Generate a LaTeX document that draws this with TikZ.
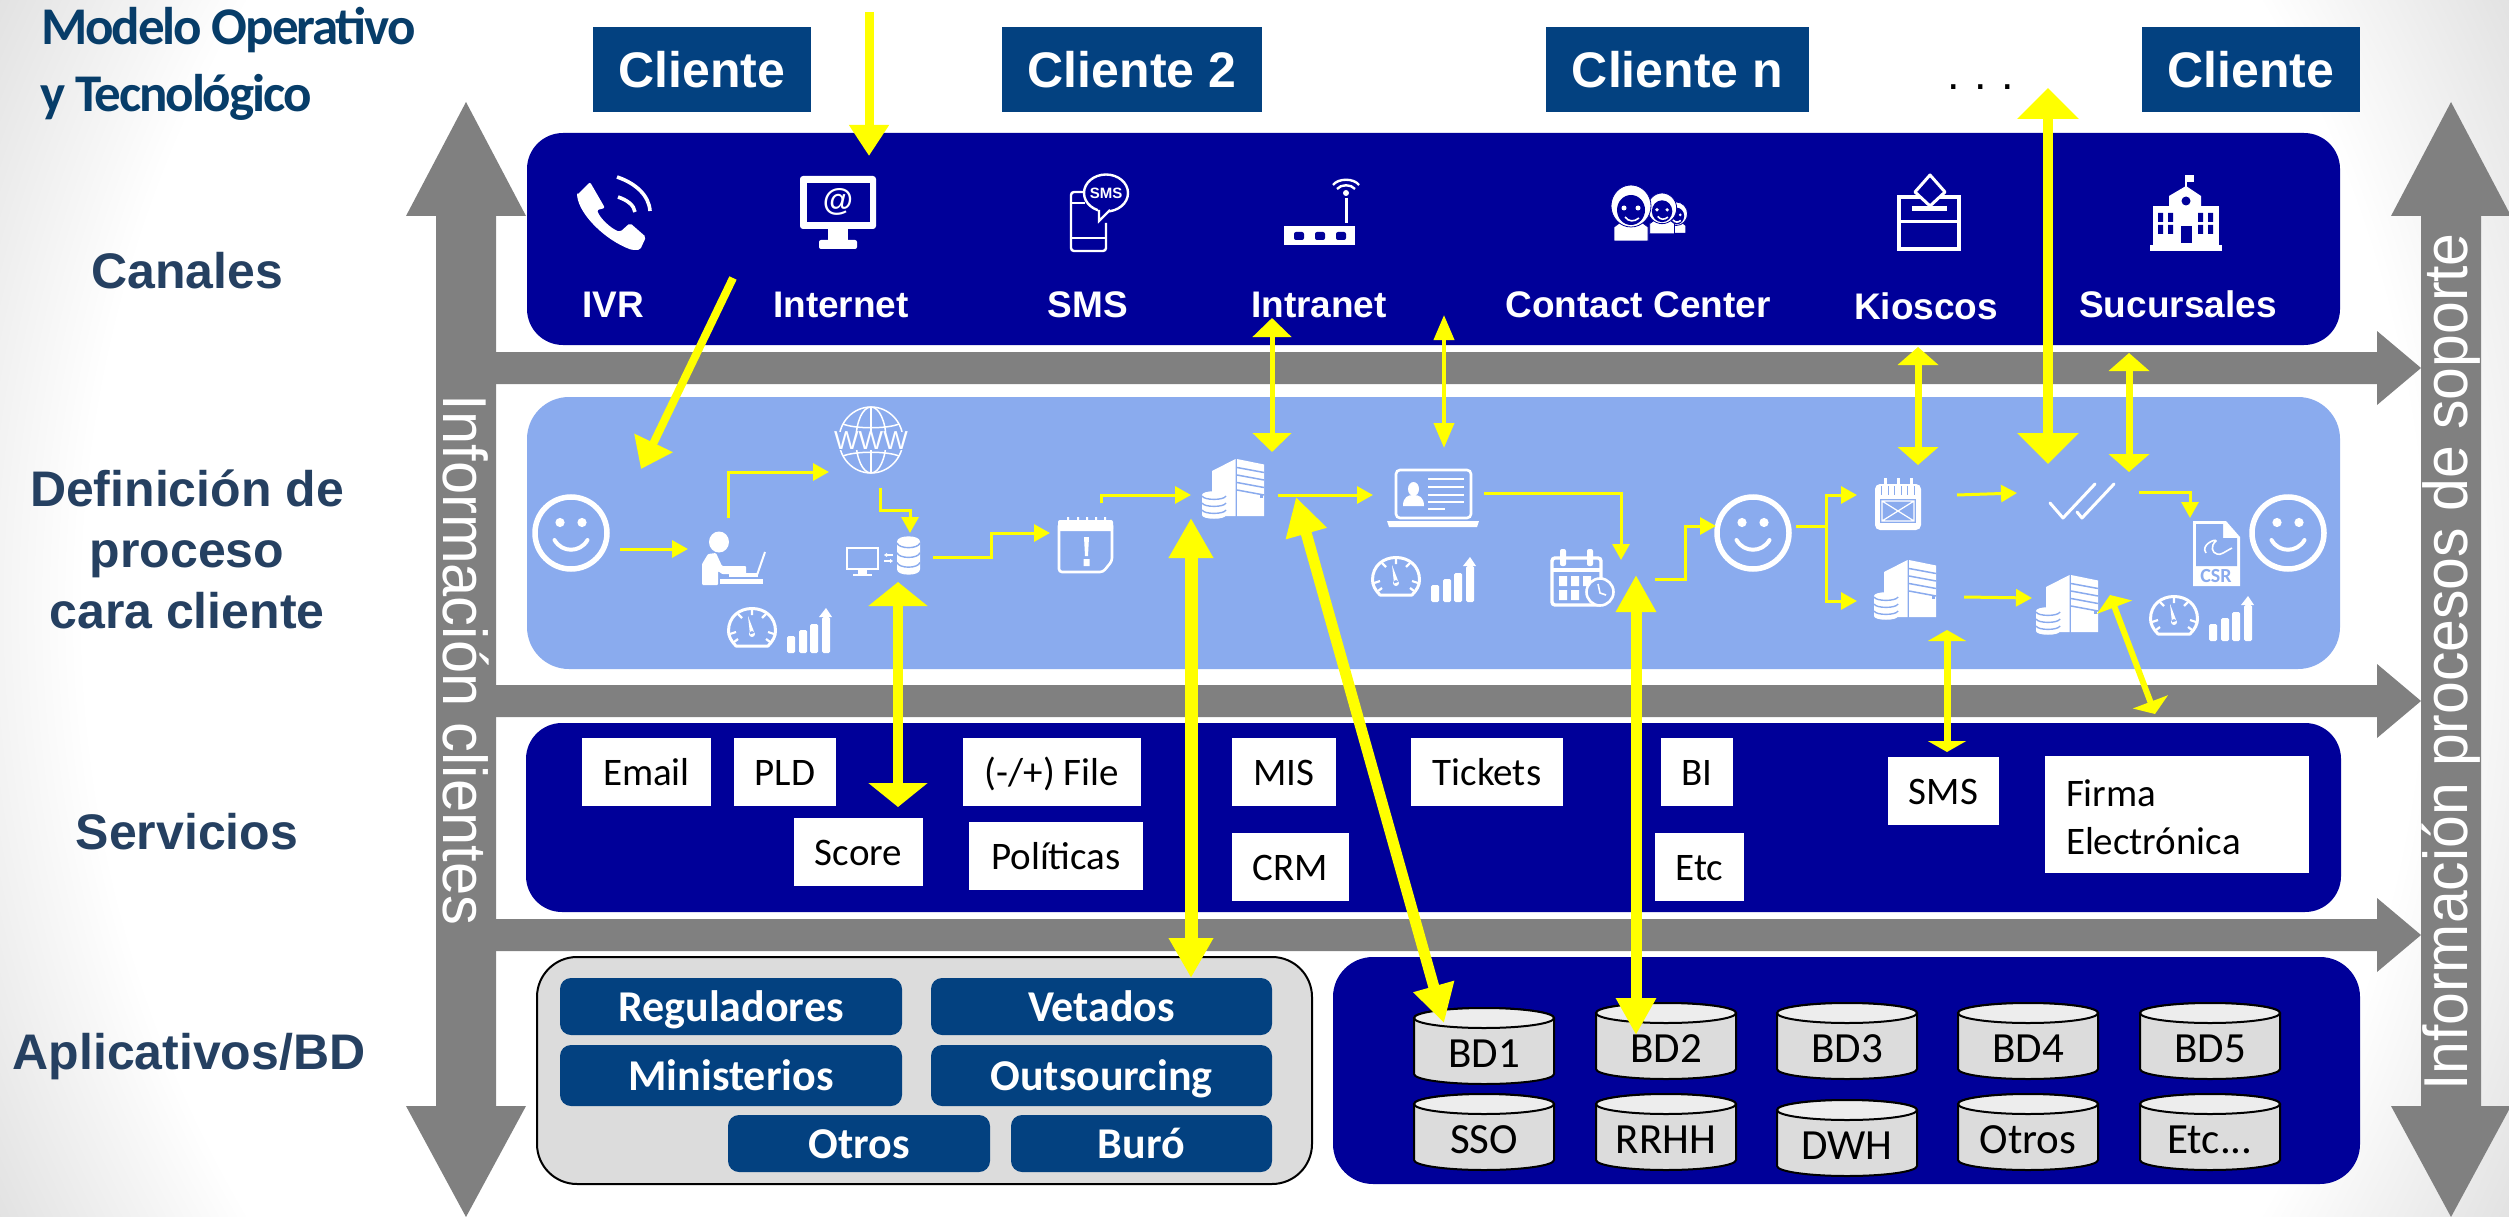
\documentclass[tikz,border=0pt]{standalone}
\usepackage{fontspec}
\usetikzlibrary{arrows.meta,shapes.geometric}
\setmainfont{Liberation Sans}
\newfontfamily\arialf{Liberation Sans}
\newfontfamily\carlf{Carlito}
\newfontfamily\tightf[LetterSpace=-4]{Carlito}
\definecolor{chanblue}{HTML}{000099}
\definecolor{defblue}{HTML}{8AABEE}
\definecolor{hdrblue}{HTML}{034180}
\definecolor{labblue}{HTML}{254061}
\definecolor{titblue}{HTML}{073D69}
\definecolor{barGray}{HTML}{808080}
\definecolor{yel}{HTML}{FFFF00}
\definecolor{panelGray}{HTML}{DCDCDC}
\definecolor{cylTop}{HTML}{EDEDED}
\definecolor{bgedge}{HTML}{E2E2E2}
\pgfdeclareradialshading{bgglow}{\pgfpoint{0bp}{0bp}}{color(0bp)=(white); color(19.23bp)=(white); color(22.9bp)=(bgedge); color(50bp)=(bgedge)}
\newcommand{\fpx}[1]{\fontsize{#1}{#1}\selectfont}
\tikzset{
  band/.style={rectangle,rounded corners=36pt,inner sep=0pt,fill=#1},
  clientbox/.style={rectangle,fill=hdrblue,text=white,inner sep=0pt,text height=37pt,text depth=0pt,font=\arialf\bfseries\fpx{50}},
  chanlabel/.style={text=white,inner sep=0pt,text height=28pt,text depth=0pt,font=\arialf\bfseries\fpx{37}},
  rowlabel/.style={text=labblue,inner sep=0pt,align=center,font=\arialf\bfseries\fontsize{50}{61}\selectfont},
  svcbox/.style={rectangle,fill=white,text=black,inner sep=0pt,font=\carlf\fpx{39}},
  svcone/.style={svcbox,text height=32pt,text depth=6pt},
  appbox/.style={rectangle,fill=hdrblue,text=white,rounded corners=11pt,inner sep=0pt,text height=36pt,text depth=6pt,font=\carlf\bfseries\fpx{44}},
  sidetext/.style={text=white,inner sep=0pt,font=\arialf\fpx{62}},
  barshape/.style={fill=barGray,draw=none},
  yarr/.style n args={3}{draw=yel,line width=#1,-{Triangle[length=#2,width=#3]}},
  ydbl/.style n args={3}{draw=yel,line width=#1,{Triangle[length=#2,width=#3]}-{Triangle[length=#2,width=#3]}},
  flowarr/.style={draw=yel,line width=3pt,-{Triangle[length=16pt,width=17pt]}},
  icf/.style={fill=white,draw=none},
  icl/.style={draw=white,line width=2.6pt,fill=none},
}
% smile
\newcommand{\icsmile}[2]{\begin{scope}[shift={(#1,#2)}]
  \draw[white,line width=5.5pt] (0,0) circle[radius=36pt];
  \fill[white] (-11,-10.5) circle[radius=4.6pt] (11,-10.5) circle[radius=4.6pt];
  \draw[white,line width=4pt,line cap=round] (-16.5,7) .. controls (-9,20) and (9,20) .. (16.5,7);
\end{scope}}
% gauge with rising bars
\newcommand{\icgauge}[2]{\begin{scope}[shift={(#1,#2)}]
  \draw[icl,line width=3pt,line join=round] (9,39) .. controls (4,34) and (1.5,29) .. (1.5,24) .. controls (1.5,10) and (12,1.5) .. (25,1.5) .. controls (38,1.5) and (48.5,10) .. (48.5,24) .. controls (48.5,29) and (46,34) .. (41,39) -- cycle;
  \draw[white,line width=2.2pt] (25,2)--(25,8) (11,7)--(15,11) (39,7)--(35,11) (3,27)--(9,25) (47,27)--(41,25) (7,35)--(11,32) (43,35)--(39,32);
  \fill[white] (21,9) -- (27.5,26) -- (23,27.5) -- cycle (25,27) circle[radius=3pt];
  \fill[white,rounded corners=1.5pt] (60,29) rectangle (68,46) (72,23) rectangle (80,46) (83,17) rectangle (91,46) (95,10) rectangle (103,46);
  \fill[white] (92,10) -- (99,1) -- (105,10) -- cycle;
\end{scope}}
% db stack
\newcommand{\icdb}[4]{\begin{scope}[shift={(#1,#2)},xscale=#3/24,yscale=#4/28]
  \fill[white] (0,4) .. controls (0,-1) and (24,-1) .. (24,4) -- (24,24) .. controls (24,29) and (0,29) .. (0,24) -- cycle;
  \draw[defblue,line width=1.4pt] (0,5) .. controls (2,9.5) and (22,9.5) .. (24,5) (0,12) .. controls (2,16.5) and (22,16.5) .. (24,12) (0,19) .. controls (2,23.5) and (22,23.5) .. (24,19);
\end{scope}}
% server tower
\newcommand{\icserver}[2]{\begin{scope}[shift={(#1,#2)}]
  \fill[white] (0,12) -- (23.5,0) -- (23.5,57) -- (0,57) -- cycle;
  \fill[white] (25,0) -- (52,5.5) -- (52,57) -- (25,57) -- cycle;
  \draw[defblue,line width=1.5pt] (25,8.5)--(52,13.5) (25,16)--(52,21) (25,23.5)--(52,28.5) (25,31)--(52,36);
  \fill[defblue] (47.5,35) rectangle (50.5,39);
\end{scope}}
% agent with headset
\newcommand{\icagent}[3]{\begin{scope}[shift={(#1,#2)},scale=#3]
  \fill[white,draw=chanblue,line width=.8pt] (5,56) -- (5,42) -- (13,36) -- (31,36) -- (39,42) -- (39,56) -- cycle;
  \fill[white,draw=chanblue,line width=.8pt] (22,21) ellipse[x radius=20pt,y radius=21pt];
  \fill[chanblue] (22,25) ellipse[x radius=14pt,y radius=15pt];
  \fill[white] (15,23) circle[radius=2.5pt] (29,23) circle[radius=2.5pt];
  \draw[white,line width=1.6pt] (16,32) .. controls (20,37) and (25,37) .. (30,33);
\end{scope}}
% cylinder
\newcommand{\icyl}[4]{%
  \draw[fill=panelGray,draw=black,line width=2pt] (#2,#3+10) -- (#2,#3+66) arc[start angle=180,end angle=360,x radius=70pt,y radius=10pt] -- (#2+140,#3+10) arc[start angle=0,end angle=180,x radius=70pt,y radius=10pt] -- cycle;
  \draw[fill=cylTop,draw=black,line width=2pt] (#2+70,#3+10) ellipse[x radius=70pt,y radius=10pt];
  \node[text=black,inner sep=0pt,text height=32pt,text depth=4pt,font=\carlf\fpx{43}] (#1) at (#2+70,#3+45) {#4};}
\begin{document}
\begin{tikzpicture}[x=1pt,y=-1pt]
\useasboundingbox (0,0) rectangle (2509,1217);
\fill[white] (0,0) rectangle (2509,1217);
\shade[shading=bgglow] (-267,-930) rectangle (2775,2146);

% grey arrows
\fill[barshape] (496,352) -- (2377,352) -- (2377,331) -- (2421,368) -- (2377,405) -- (2377,384) -- (496,384) -- cycle;
\fill[barshape] (496,685) -- (2377,685) -- (2377,664) -- (2421,701) -- (2377,738) -- (2377,717) -- (496,717) -- cycle;
\fill[barshape] (496,919) -- (2377,919) -- (2377,898) -- (2421,935) -- (2377,972) -- (2377,951) -- (496,951) -- cycle;
\fill[barshape] (466,102) -- (526,216) -- (496,216) -- (496,1106) -- (526,1106) -- (466,1217) -- (406,1106) -- (436,1106) -- (436,216) -- (406,216) -- cycle;
\fill[barshape] (2451,102) -- (2511,216) -- (2481,216) -- (2481,1106) -- (2511,1106) -- (2451,1217) -- (2391,1106) -- (2421,1106) -- (2421,216) -- (2391,216) -- cycle;
\node[sidetext,rotate=-90] (sideL) at (466,660) {\scalebox{0.962}[1]{Información clientes}};
\node[sidetext,rotate=90] (sideR) at (2451,662) {\scalebox{0.95}[1]{Información procesos de soporte}};

% title and row labels
\node[anchor=base west,inner sep=0pt,text=titblue,font=\tightf\bfseries\fpx{53}] (title1) at (41,45) {Modelo Operativo};
\node[anchor=base west,inner sep=0pt,text=titblue,font=\tightf\bfseries\fpx{53}] (title2) at (40,112) {y Tecnológico};
\node[rowlabel,anchor=base] (rowCan) at (187,288) {Canales};
\node[rowlabel] (rowDef) at (187,549) {Definición de\\proceso\\cara cliente};
\node[rowlabel,anchor=base] (rowSer) at (187,849) {Servicios};
\node[rowlabel,anchor=base] (rowApp) at (189,1069) {Aplicativos/BD};

% client boxes
\node[clientbox,minimum width=218pt,minimum height=85pt] (cli1) at (702,69.5) {Cliente};
\node[clientbox,minimum width=260pt,minimum height=85pt] (cli2) at (1132,69.5) {Cliente 2};
\node[clientbox,minimum width=263pt,minimum height=85pt] (clin) at (1677.5,69.5) {Cliente n};
\node[clientbox,minimum width=218pt,minimum height=85pt] (cliz) at (2251,69.5) {Cliente};
\node[anchor=base,inner sep=0pt,font=\arialf\fpx{45}] (dots) at (1981,90) {.\hspace{14.5pt}.\hspace{14.5pt}.};

% bands
\node[band=chanblue,minimum width=1813pt,minimum height=212pt] (bandCan) at (1433.5,239) {};
\node[band=defblue,rounded corners=42pt,minimum width=1813pt,minimum height=272pt] (bandDef) at (1433.5,533) {};
\node[band=chanblue,minimum width=1815pt,minimum height=189pt] (bandSer) at (1433.5,817.5) {};
\node[band=chanblue,rounded corners=40pt,minimum width=1027pt,minimum height=227pt] (bandDb) at (1846.5,1070.5) {};
\node[rectangle,rounded corners=40pt,fill=panelGray,draw=black,line width=2pt,inner sep=0pt,minimum width=775pt,minimum height=227pt] (bandApp) at (924.5,1070.5) {};

% channel labels
\node[chanlabel] (lIVR) at (613,303) {IVR};
\node[chanlabel] (lInt) at (841,303) {Internet};
\node[chanlabel] (lSMS) at (1088,303) {SMS};
\node[chanlabel] (lIntra) at (1319,303) {Intranet};
\node[chanlabel] (lCC) at (1638,303) {Contact Center};
\node[chanlabel] (lKio) at (1926,305) {Kioscos};
\node[chanlabel] (lSuc) at (2178,303) {Sucursales};

% phone icon
\fill[white,rounded corners=2pt] (577,195) -- (590,182) -- (605,208) -- (597,210) .. controls (600,218) and (610,228) .. (620,232) -- (630,223) -- (646,237) -- (640,250) -- (632,250) .. controls (605,240) and (580,215) .. (577,195) -- cycle;
\draw[white,line width=3.6pt] (617,177) .. controls (635,183) and (649,195) .. (650,211);
\draw[white,line width=3.6pt] (618,197) .. controls (627,200) and (634,205) .. (635,212);
% monitor icon
\fill[white,rounded corners=3pt] (800,176) rectangle (876,229);
\fill[chanblue] (807,183) rectangle (870,222);
\fill[white] (828,229) rectangle (848,241);
\fill[white,rounded corners=2pt] (819,240) rectangle (857,249);
\node[text=white,inner sep=0pt,font=\arialf\bfseries\fpx{31}] (atSign) at (838,202) {@};
% sms phone icon
\draw[white,line width=2.4pt,rounded corners=3pt] (1085,192) -- (1071,192) -- (1071,251) -- (1106,251) -- (1106,223);
\draw[white,line width=2.4pt] (1071,238) -- (1106,238) (1071,203) -- (1085,203);
\draw[white,line width=2.4pt,fill=chanblue] (1106,193) ellipse[x radius=22pt,y radius=18.5pt];
\fill[chanblue] (1098,208) -- (1110,208) -- (1100,222) -- cycle;
\draw[white,line width=2.2pt] (1110,210) -- (1099,221) -- (1099,210);
\node[text=white,inner sep=0pt,font=\arialf\bfseries\fpx{15}] (smsTxt) at (1106,193) {SMS};
% router icon
\fill[white] (1284,226) rectangle (1355,245);
\fill[chanblue,rounded corners=2pt] (1294,232) rectangle (1304,240) (1315,232) rectangle (1325,240) (1336,232) rectangle (1346,240);
\draw[white,line width=3pt] (1346,198) -- (1346,223);
\fill[white] (1346,193) circle[radius=3pt];
\draw[white,line width=2.4pt] (1337,189) .. controls (1341,184) and (1351,184) .. (1355,189);
\draw[white,line width=2.4pt] (1333,185) .. controls (1338,178) and (1354,178) .. (1359,185);
% contact centre icon
\icagent{1664}{202}{0.56}
\icagent{1646}{193}{0.73}
\icagent{1609}{185}{1}
% ballot box icon
\draw[white,line width=4pt] (1899,197) rectangle (1959,249);
\draw[white,line width=3pt] (1899,222) -- (1959,222);
\draw[white,line width=3pt,fill=chanblue,line join=round] (1930,175) -- (1945,192) -- (1930,206) -- (1915,192) -- cycle;
\fill[white] (1912,206) rectangle (1947,211);
% school icon
\fill[white] (2150,245) rectangle (2222,251);
\fill[white] (2153,206) rectangle (2219,246);
\fill[white] (2169,206) -- (2169,196) -- (2186,186) -- (2201,196) -- (2201,206) -- cycle;
\draw[white,line width=2.4pt] (2186,175) -- (2186,187);
\fill[white] (2186,175) rectangle (2194,182);
\fill[chanblue] (2186,201) circle[radius=4.5pt];
\fill[chanblue] (2181,226) rectangle (2192,243);
\fill[chanblue] (2158,213) rectangle (2163,222) (2168,213) rectangle (2173,222) (2158,225) rectangle (2163,234) (2168,225) rectangle (2173,234) (2198,213) rectangle (2203,222) (2208,213) rectangle (2213,222) (2198,225) rectangle (2203,234) (2208,225) rectangle (2213,234);

% process icons
\icsmile{571}{533}
\icsmile{1753}{533}
\icsmile{2288}{533}
% person at laptop
\fill[white] (719,542) ellipse[x radius=10pt,y radius=10.5pt];
\fill[white,rounded corners=1pt] (702,585) -- (702,564) -- (708,554) -- (716,553) -- (722,566) -- (746,566) -- (746,574) -- (722,574) -- (718,571) -- (718,585) -- cycle;
\fill[white] (720,579) rectangle (763,584);
\fill[white] (729,573) rectangle (758,577);
\draw[white,line width=2pt] (757,575) -- (765,552);
% globe
\draw[white,line width=1.5pt] (871,440) ellipse[x radius=32pt,y radius=33pt];
\draw[white,line width=1.5pt] (871,440) ellipse[x radius=15pt,y radius=33pt];
\draw[white,line width=1.5pt] (871,407) -- (871,473);
\draw[white,line width=1.5pt] (843,424) .. controls (855,429) and (887,429) .. (899,424) (843,456) .. controls (855,451) and (887,451) .. (899,456);
\node[fill=defblue,text=white,inner sep=0pt,minimum width=74pt,minimum height=17pt,font=\arialf\fpx{26}] (wwwTxt) at (871,441) {WWW};
% monitor and db
\draw[white,line width=2.8pt] (847,548) rectangle (878,569);
\fill[white] (858,570) rectangle (867,575);
\fill[white] (853,574) rectangle (872,576);
\draw[white,line width=1.4pt,-{Triangle[length=3pt,width=4pt]}] (893,555) -- (884,555);
\draw[white,line width=1.4pt,-{Triangle[length=3pt,width=4pt]}] (884,561) -- (893,561);
\icdb{897}{536}{23}{39}
% alert calendar
\draw[white,line width=2.6pt,rounded corners=3pt] (1059,523) -- (1059,572) -- (1103,572) -- (1112,561) -- (1112,523) -- cycle;
\fill[white,rounded corners=2pt] (1058,520) rectangle (1113,531);
\fill[white] (1067,517) rectangle (1069,522) (1077,517) rectangle (1079,522) (1086,517) rectangle (1088,522) (1095,517) rectangle (1097,522) (1104,517) rectangle (1106,522);
\fill[white] (1084,537) -- (1089,537) -- (1088,556) -- (1085,556) -- cycle (1083.5,559) rectangle (1089.5,566);
% server + db
\icserver{1212}{459}
\icdb{1202}{491}{24}{28}
\icserver{1884}{560}
\icdb{1874}{592}{24}{28}
\icserver{2046}{575}
\icdb{2036}{607}{24}{28}
% gauges
\icgauge{727}{607}
\icgauge{1371}{556}
\icgauge{2149}{595}
% laptop
\draw[white,line width=2.6pt,rounded corners=4pt] (1396,470) rectangle (1471,518);
\fill[white] (1387,521) -- (1479,521) -- (1477,527) -- (1389,527) -- cycle;
\fill[white] (1413.5,489) ellipse[x radius=5.5pt,y radius=7pt];
\fill[white] (1403,506) .. controls (1403,497) and (1408,495) .. (1413.5,495) .. controls (1419,495) and (1424,497) .. (1424,506) -- cycle;
\draw[white,line width=2.2pt] (1428,479) -- (1464,479) (1428,487) -- (1464,487) (1428,495) -- (1464,495) (1428,502) -- (1464,502) (1428,509) -- (1445,509);
% calendar + clock
\draw[white,line width=3.4pt,rounded corners=3pt] (1552,558) rectangle (1601,605);
\draw[white,line width=3.4pt] (1552,570) -- (1601,570);
\fill[white,rounded corners=2pt] (1560,549) rectangle (1566,566) (1587,549) rectangle (1593,566);
\fill[white] (1559,576) rectangle (1567,586) (1571,576) rectangle (1579,586) (1583,576) rectangle (1591,586) (1559,590) rectangle (1567,600) (1571,590) rectangle (1579,600);
\draw[white,line width=2.6pt,fill=defblue] (1600,592) circle[radius=13.5pt];
\draw[white,line width=1.6pt] (1598,584) -- (1600,593) -- (1606,595);
% mail notebook
\fill[white,rounded corners=5pt] (1875,484) rectangle (1921,530);
\draw[white,line width=3pt] (1885,478) -- (1885,490) (1898,478) -- (1898,490) (1911,478) -- (1911,490);
\draw[defblue,line width=1.2pt] (1881.5,486) -- (1881.5,495) (1888.5,486) -- (1888.5,495) (1894.5,486) -- (1894.5,495) (1901.5,486) -- (1901.5,495) (1907.5,486) -- (1907.5,495) (1914.5,486) -- (1914.5,495);
\fill[defblue] (1880,499) rectangle (1916,523);
\draw[white,line width=1.2pt] (1882,501) rectangle (1914,521) (1882,501) -- (1914,521) (1914,501) -- (1882,521);
% checks
\draw[white,line width=3pt,line cap=round,line join=round] (2050,503) -- (2063,518) -- (2095,484);
\draw[white,line width=3pt,line cap=round,line join=round] (2077,512) -- (2082,518) -- (2114,484);
% CSR document
\fill[white] (2193,521) -- (2226,521) -- (2240,537) -- (2240,586) -- (2193,586) -- cycle;
\fill[defblue] (2196,524) -- (2223,524) -- (2223,538) -- (2237,538) -- (2237,566) -- (2196,566) -- cycle;
\draw[white,line width=1.6pt] (2206,553) .. controls (2200,545) and (2216,538) .. (2216,541) .. controls (2210,546) and (2212,553) .. (2217,554) .. controls (2220,556) and (2226,551) .. (2232,548);
\node[text=defblue,inner sep=0pt,font=\carlf\bfseries\fpx{20}] (csrTxt) at (2216,576) {CSR};

% services
\node[svcone,minimum width=129pt,minimum height=68pt] (sEmail) at (646.5,772) {Email};
\node[svcone,minimum width=102pt,minimum height=68pt] (sPLD) at (785,772) {PLD};
\node[svcone,minimum width=178pt,minimum height=68pt] (sFile) at (1052,772) {(-/+) File};
\node[svcone,minimum width=104pt,minimum height=68pt] (sMIS) at (1284,772) {MIS};
\node[svcone,minimum width=129pt,minimum height=68pt] (sScore) at (858.5,852) {Score};
\node[svcone,minimum width=174pt,minimum height=68pt] (sPol) at (1056,856) {Políticas};
\node[svcone,minimum width=117pt,minimum height=68pt] (sCRM) at (1290.5,867) {CRM};
\node[svcone,minimum width=152pt,minimum height=68pt] (sTick) at (1487,772) {Tickets};
\node[svcone,minimum width=72pt,minimum height=68pt] (sBI) at (1697,772) {BI};
\node[svcone,minimum width=89pt,minimum height=68pt] (sEtc) at (1699.5,867) {Etc};
\node[svcone,minimum width=111pt,minimum height=68pt] (sSMS) at (1943.5,791) {SMS};
\node[svcbox,font=\carlf\fontsize{39}{48}\selectfont,align=left,text width=222pt,inner xsep=21pt,minimum height=117pt] (sFirma) at (2177,814.5) {\rule{0pt}{32pt}Firma\\Electrónica};

% applications
\node[appbox,minimum width=342pt,minimum height=57pt] (aReg) at (731,1006.5) {Reguladores};
\node[appbox,minimum width=341pt,minimum height=57pt] (aVet) at (1101.5,1006.5) {Vetados};
\node[appbox,minimum width=342pt,minimum height=61pt] (aMin) at (731,1075.5) {Ministerios};
\node[appbox,minimum width=341pt,minimum height=61pt] (aOut) at (1101.5,1075.5) {Outsourcing};
\node[appbox,minimum width=262pt,minimum height=57pt] (aOtr) at (859,1143.5) {Otros};
\node[appbox,minimum width=261pt,minimum height=57pt] (aBur) at (1141.5,1143.5) {Buró};

% databases
\icyl{dbA}{1414}{1008}{BD1}
\icyl{dbB}{1596}{1003}{BD2}
\icyl{dbC}{1777}{1003}{BD3}
\icyl{dbD}{1958}{1003}{BD4}
\icyl{dbE}{2140}{1003}{BD5}
\icyl{dbF}{1414}{1094}{SSO}
\icyl{dbG}{1596}{1094}{RRHH}
\icyl{dbH}{1777}{1100}{DWH}
\icyl{dbI}{1958}{1094}{Otros}
\icyl{dbJ}{2140}{1094}{Etc...}

% process flow arrows
\coordinate (f1a) at (620,549); \coordinate (f1b) at (688,549);
\draw[flowarr] (f1a) -- (f1b);
\coordinate (f2a) at (728,518); \coordinate (f2b) at (829,472);
\draw[flowarr] (f2a) |- (f2b);
\coordinate (f3a) at (880,488); \coordinate (f3m) at (910,510); \coordinate (f3b) at (910,533);
\draw[flowarr] (f3a) |- (f3m) -- (f3b);
\coordinate (f4a) at (933,557); \coordinate (f4m) at (991,533); \coordinate (f4b) at (1050,533);
\draw[flowarr] (f4a) -| (f4m) -- (f4b);
\coordinate (f5a) at (1101,503); \coordinate (f5b) at (1191,495);
\draw[flowarr] (f5a) |- (f5b);
\coordinate (f6a) at (1278,495); \coordinate (f6b) at (1373,495);
\draw[flowarr] (f6a) -- (f6b);
\coordinate (f7a) at (1484,493); \coordinate (f7b) at (1621,560);
\draw[flowarr] (f7a) -| (f7b);
\coordinate (f8a) at (1655,579); \coordinate (f8m) at (1685,526); \coordinate (f8b) at (1716,526);
\draw[flowarr] (f8a) -| (f8m) -- (f8b);
\coordinate (f9a) at (1796,526); \coordinate (f9m) at (1826,526); \coordinate (f9b) at (1857,495); \coordinate (f9c) at (1857,601);
\draw[draw=yel,line width=3pt] (f9a) -- (f9m);
\draw[flowarr] (f9m) |- (f9b);
\draw[flowarr] (f9m) |- (f9c);
\coordinate (f10a) at (1957,495); \coordinate (f10b) at (2017,493);
\draw[flowarr] (f10a) -- (f10b);
\coordinate (f11a) at (1964,597); \coordinate (f11b) at (2032,598);
\draw[flowarr] (f11a) -- (f11b);
\coordinate (f12a) at (2139,492); \coordinate (f12b) at (2190,518);
\draw[flowarr] (f12a) -| (f12b);

% big yellow arrows
\coordinate (y1a) at (869,12); \coordinate (y1b) at (869,156);
\draw[yarr={9pt}{31pt}{38pt}] (y1a) -- (y1b);
\coordinate (y2a) at (733,278); \coordinate (y2b) at (641,469);
\draw[yarr={8pt}{29pt}{41pt}] (y2a) -- (y2b);
\coordinate (y3a) at (1272,318); \coordinate (y3b) at (1272,452);
\draw[ydbl={5pt}{19pt}{38pt}] (y3a) -- (y3b);
\coordinate (y4a) at (1444,315); \coordinate (y4b) at (1444,448);
\draw[ydbl={4pt}{25pt}{20pt}] (y4a) -- (y4b);
\coordinate (y5a) at (2048,88); \coordinate (y5b) at (2048,464);
\draw[ydbl={10pt}{31pt}{60pt}] (y5a) -- (y5b);
\coordinate (y6a) at (1918,347); \coordinate (y6b) at (1918,465);
\draw[ydbl={7pt}{18pt}{40pt}] (y6a) -- (y6b);
\coordinate (y7a) at (2129,353); \coordinate (y7b) at (2129,472);
\draw[ydbl={7pt}{18pt}{40pt}] (y7a) -- (y7b);
\coordinate (y8a) at (898,582); \coordinate (y8b) at (898,807);
\draw[ydbl={10pt}{24pt}{58pt}] (y8a) -- (y8b);
\coordinate (y9a) at (1191,518); \coordinate (y9b) at (1191,978);
\draw[ydbl={13pt}{40pt}{42pt}] (y9a) -- (y9b);
\coordinate (y10a) at (1296,497); \coordinate (y10b) at (1444,1023);
\draw[ydbl={11pt}{38pt}{40pt}] (y10a) -- (y10b);
\coordinate (y11a) at (1636,575); \coordinate (y11b) at (1636,1035);
\draw[ydbl={11pt}{37pt}{38pt}] (y11a) -- (y11b);
\coordinate (y12a) at (1947,630); \coordinate (y12b) at (1947,752);
\draw[ydbl={7pt}{11pt}{38pt}] (y12a) -- (y12b);
\coordinate (y13a) at (2110,595); \coordinate (y13b) at (2155,714);
\draw[ydbl={6pt}{13pt}{37pt}] (y13a) -- (y13b);
\end{tikzpicture}
\end{document}
